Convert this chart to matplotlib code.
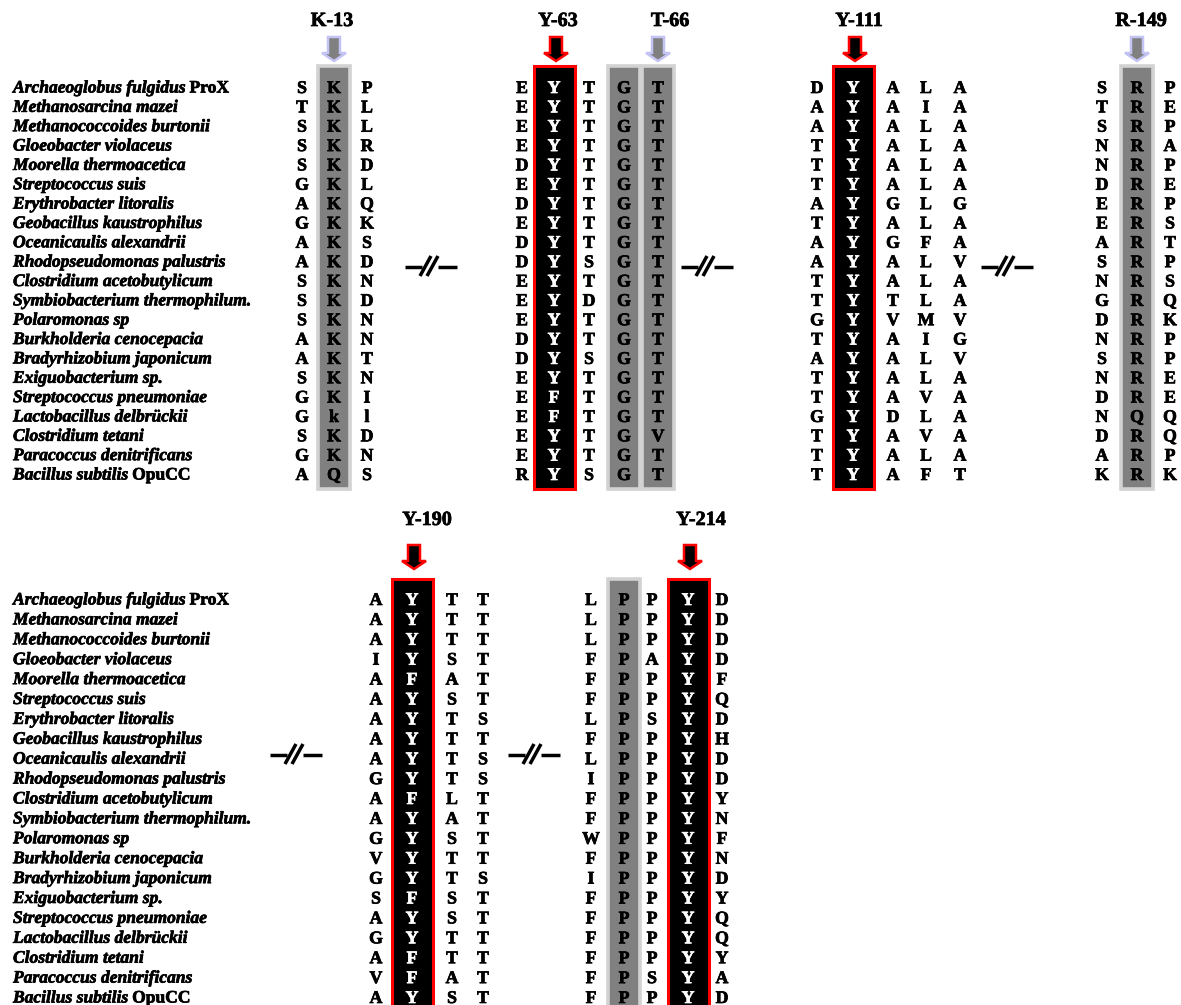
import matplotlib
matplotlib.use("Agg")
import matplotlib.pyplot as plt
import matplotlib.patheffects as pe
from matplotlib.patches import Rectangle, Polygon

# ---- alignment data -------------------------------------------------------
species = [
    "Archaeoglobus fulgidus", "Methanosarcina mazei", "Methanococcoides burtonii",
    "Gloeobacter violaceus", "Moorella thermoacetica", "Streptococcus suis",
    "Erythrobacter litoralis", "Geobacillus kaustrophilus", "Oceanicaulis alexandrii",
    "Rhodopseudomonas palustris", "Clostridium acetobutylicum",
    "Symbiobacterium thermophilum.", "Polaromonas sp", "Burkholderia cenocepacia",
    "Bradyrhizobium japonicum", "Exiguobacterium sp.", "Streptococcus pneumoniae",
    "Lactobacillus delbrückii", "Clostridium tetani", "Paracoccus denitrificans",
    "Bacillus subtilis",
]
protein_names = {0: "ProX", 20: "OpuCC"}

# K-13 region
k13_cols = ["STSSSGAGAASSSAASGGSGA",
            "KKKKKKKKKKKKKKKKKkKKQ",
            "PLLRDLQKSDNDNNTNIlDNS"]
# Y-63 / T-66 region
y63_cols = ["EEEEDEDEDDEEEDDEEEEER",
            "YYYYYYYYYYYYYYYYFFYYY",
            "TTTTTTTTTSTDTTSTTTTTS",
            "GGGGGGGGGGGGGGGGGGGGG",
            "TTTTTTTTTTTTTTTTTTVTT"]
# Y-111 region
y111_cols = ["DAATTTATAATTGTATTGTTT",
             "YYYYYYYYYYYYYYYYYYYYY",
             "AAAAAAGAGAATVAAAADAAA",
             "LILLLLLLFLLLMILLVLVLF",
             "AAAAAAGAAVAAVGVAAAAAT"]
# R-149 region
r149_cols = ["STSNNDEEASNGDNSNDNDAK",
             "RRRRRRRRRRRRRRRRRQRRR",
             "PEPAPEPSTPSQKPPEEQQPK"]
# Y-190 region
y190_cols = ["AAAIAAAAAGAAGVGSAGAVA",
             "YYYYFYYYYYFYYYYFYYFFY",
             "TTTSASTTTTLASTTSSTTAS",
             "TTTTTTSTSSTTTTSTTTTTT"]
# Y-214 region
y214_cols = ["LLLFFFLFLIFFWFIFFFFFF",
             "PPPPPPPPPPPPPPPPPPPPP",
             "PPPAPPSPPPPPPPPPPPPSP",
             "YYYYYYYYYYYYYYYYYYYYY",
             "DDDDFQDHDDYNFNDYQQYAD"]

# ---- layout ----------------------------------------------------------------
W, H = 1181, 1005
fig = plt.figure(figsize=(W / 100, H / 100), dpi=100)
ax = fig.add_axes([0, 0, 1, 1])
ax.set_xlim(0, W)
ax.set_ylim(H, 0)
ax.axis("off")

SERIF = ["Liberation Serif", "DejaVu Serif"]
GRAY = "#808080"
GRAY_EDGE = "#d2d2d2"
LAVENDER = "#c4c4f4"
NAME_SIZE = 12.6
RES_SIZE = 12.8


def heavy(color):
    # slightly thicken glyph strokes
    return [pe.Stroke(linewidth=0.5, foreground=color), pe.Normal()]


panels = {
    "top": dict(y0=86.5, dy=19.35, box_top=66, box_bot=489, arrow_top=37, label_y=21),
    "bottom": dict(y0=598.5, dy=19.9, box_top=579, box_bot=1012, arrow_top=545, label_y=520),
}

# each block: panel, column xs, column data, highlight per column, site label(s)
blocks = [
    dict(panel="top", xs=[302, 334, 367], cols=k13_cols,
         marks={1: "cons"}, labels={1: "K-13"}),
    dict(panel="top", xs=[522, 554, 589, 624, 658], cols=y63_cols,
         marks={1: "key", 3: "cons", 4: "cons"}, labels={1: "Y-63", 4: "T-66"}),
    dict(panel="top", xs=[817, 853, 893, 926, 960], cols=y111_cols,
         marks={1: "key"}, labels={1: "Y-111"}),
    dict(panel="top", xs=[1102, 1137, 1170], cols=r149_cols,
         marks={1: "cons"}, labels={1: "R-149"}),
    dict(panel="bottom", xs=[376, 412, 452, 483], cols=y190_cols,
         marks={1: "key"}, labels={1: "Y-190"}),
    dict(panel="bottom", xs=[591, 624, 652, 688, 722], cols=y214_cols,
         marks={1: "cons", 3: "key"}, labels={3: "Y-214"}),
]
box_width = {"key": 41, "cons": 32}
label_dx = {"K-13": -2, "Y-63": 4, "T-66": 12, "Y-111": 6, "R-149": 4,
            "Y-190": 15, "Y-214": 13}

breaks = {"top": [431, 707, 1007], "bottom": [296, 534]}
break_y = {"top": 267, "bottom": 755}


def down_arrow(cx, top, face, edge):
    sh, hh, shaft_len, tip = 6, 12, 16, 24
    pts = [(cx - sh, top), (cx + sh, top), (cx + sh, top + shaft_len),
           (cx + hh, top + shaft_len), (cx, top + tip), (cx - hh, top + shaft_len),
           (cx - sh, top + shaft_len)]
    ax.add_patch(Polygon(pts, closed=True, facecolor=face, edgecolor=edge,
                         linewidth=1.8, joinstyle="miter", zorder=3))


def break_mark(cx, cy):
    kw = dict(color="black", linewidth=2.5, solid_capstyle="butt", zorder=3)
    ax.plot([cx - 26, cx - 9], [cy, cy], **kw)
    ax.plot([cx + 7, cx + 26], [cy, cy], **kw)
    ax.plot([cx - 11, cx], [cy + 9, cy - 11], **kw)
    ax.plot([cx - 4, cx + 7], [cy + 9, cy - 11], **kw)


renderer = fig.canvas.get_renderer()

# species names for both panels
for pname, p in panels.items():
    for i, name in enumerate(species):
        y = p["y0"] + i * p["dy"]
        t = ax.text(13, y, name, family=SERIF, weight="bold", style="italic",
                    fontsize=NAME_SIZE, ha="left", va="center_baseline",
                    path_effects=heavy("black"))
        if i in protein_names:
            bb = t.get_window_extent(renderer=renderer)
            x_end = ax.transData.inverted().transform((bb.x1, 0))[0]
            ax.text(x_end + 4, y, protein_names[i], family=SERIF, weight="bold",
                    fontsize=NAME_SIZE, ha="left", va="center_baseline",
                    path_effects=heavy("black"))

# alignment blocks
for b in blocks:
    p = panels[b["panel"]]
    for j, (x, col) in enumerate(zip(b["xs"], b["cols"])):
        kind = b["marks"].get(j)
        color = "black"
        if kind is not None:
            w = box_width[kind]
            if kind == "key":
                ax.add_patch(Rectangle((x - w / 2, p["box_top"]), w,
                                       p["box_bot"] - p["box_top"], facecolor="black",
                                       edgecolor="#ff0000", linewidth=2.2, zorder=1))
                color = "white"
            else:
                ax.add_patch(Rectangle((x - w / 2, p["box_top"]), w,
                                       p["box_bot"] - p["box_top"], facecolor=GRAY,
                                       edgecolor=GRAY_EDGE, linewidth=2.6, zorder=1))
        for i, aa in enumerate(col):
            y = p["y0"] + i * p["dy"]
            ax.text(x, y, aa, family=SERIF, weight="bold", fontsize=RES_SIZE,
                    color=color, ha="center", va="center_baseline", zorder=4,
                    path_effects=heavy(color))
        if j in b["labels"]:
            lab = b["labels"][j]
            ax.text(x + label_dx.get(lab, 0), p["label_y"], lab, family=SERIF,
                    weight="bold", fontsize=14.5, ha="center", va="center",
                    path_effects=heavy("black"))
            if kind == "key":
                down_arrow(x + 2, p["arrow_top"], "black", "#ff0000")
            else:
                down_arrow(x, p["arrow_top"], GRAY, LAVENDER)

for pname, xs in breaks.items():
    for cx in xs:
        break_mark(cx, break_y[pname])

fig.savefig("out.png", dpi=100, facecolor="white")
